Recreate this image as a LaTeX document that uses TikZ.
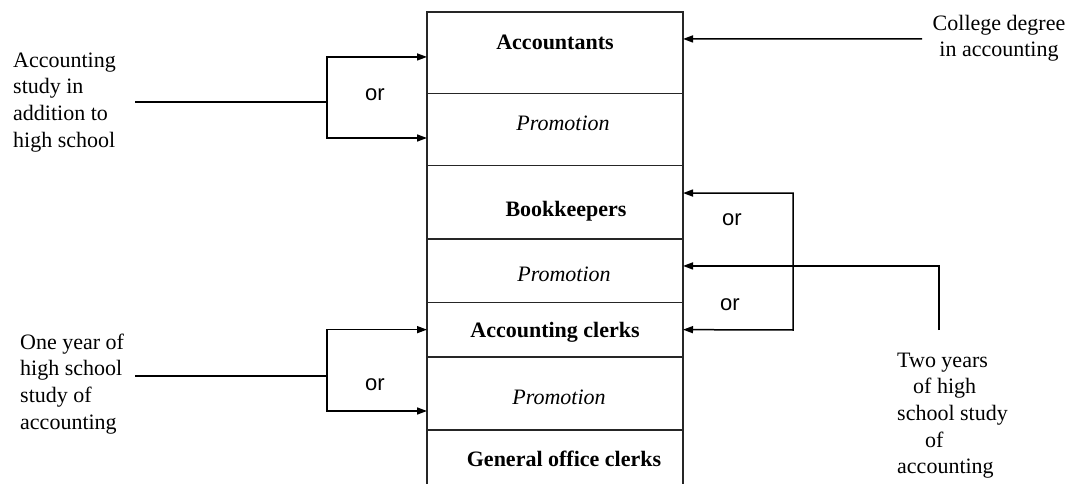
\documentclass[tikz,border=0pt]{standalone}
\usepackage{fontspec}
\setmainfont{Liberation Serif}
\newfontfamily\orfont{Liberation Sans}
\usetikzlibrary{arrows.meta, positioning, calc}
\newcommand{\chartfont}{\fontsize{22}{26.7}\selectfont}
\tikzset{
  >={Triangle[length=10pt, width=7pt]},
  row/.style    = {draw=black!85, line width=1.4pt, minimum width=256pt,
                   outer sep=0pt, inner sep=0pt},
  job/.style    = {font=\chartfont\bfseries, inner sep=0pt},
  promo/.style  = {font=\chartfont\itshape, inner sep=0pt},
  src/.style    = {font=\chartfont, align=left, inner sep=0pt},
  ortext/.style = {font=\chartfont\orfont, inner sep=0pt},
  arrow/.style  = {->, line width=1.5pt},
  link/.style   = {line width=1.5pt},
}

\begin{document}
\begin{tikzpicture}[x=1pt, y=1pt]
  \useasboundingbox (0,0) rectangle (1069,483);

  % ---------- job ladder ---------------------------------------------
  \node[row, minimum height=81.3pt, anchor=north] (r1) at (555,471) {};
  \node[row, minimum height=72.4pt, below=0pt of r1] (r2) {};
  \node[row, minimum height=73.3pt, below=0pt of r2] (r3) {};
  \node[row, minimum height=63.3pt, below=0pt of r3] (r4) {};
  \node[row, minimum height=54.7pt, below=0pt of r4] (r5) {};
  \node[row, minimum height=73pt,   below=0pt of r5] (r6) {};
  \node[row, minimum height=70pt,   below=0pt of r6] (r7) {};

  \node[job]   (accountants) at ($(r1.center)+(0,10.7)$) {Accountants};
  \node[promo] (promo1)      at ($(r2.center)+(8,6.5)$)   {Promotion};
  \node[job]   (bookkeepers) at ($(r3.center)+(11,-8.7)$) {Bookkeepers};
  \node[promo] (promo2)      at ($(r4.center)+(9,-3.3)$)  {Promotion};
  \node[job]   (clerks)      at ($(r5.center)+(0,-2.3)$)  {Accounting clerks};
  \node[promo] (promo3)      at ($(r6.center)+(4,-3.5)$)  {Promotion};
  \node[job]   (general)     at ($(r7.center)+(9,6)$)     {General office clerks};

  % ---------- arrow ends on the ladder -------------------------------
  \coordinate (a1) at ($(r1.west)+(0,-4.3)$);
  \coordinate (a2) at ($(r2.west)+(0,-8.5)$);
  \coordinate (a3) at ($(r1.east)+(0,13.7)$);
  \coordinate (a4) at ($(r3.east)+(0,9.3)$);
  \coordinate (a5) at ($(r4.east)+(0,4.7)$);
  \coordinate (a6) at (r5.east);
  \coordinate (a7) at (r5.west);
  \coordinate (a8) at ($(r6.west)+(0,-17.5)$);

  % ---------- left: accounting study ---------------------------------
  \node[src, anchor=north west] (study) at (13,430.5)
    {Accounting\\study in\\addition to\\high school};
  \coordinate (s1) at (135,381);
  \coordinate (j1) at (327,381);
  \draw[link] (s1) -- (j1);
  \draw[arrow] (j1) |- (a1);
  \draw[arrow] (j1) |- (a2);
  \node[ortext] (or1) at (375,388) {or};

  % ---------- left: one year of high school --------------------------
  \node[src, anchor=north west] (oneyear) at (20,149.4)
    {One year of\\high school\\study of\\accounting};
  \coordinate (s2) at (135,107);
  \coordinate (j2) at (327,107);
  \draw[link] (s2) -- (j2);
  \draw[arrow] (j2) |- (a7);
  \draw[arrow] (j2) |- (a8);
  \node[ortext] (or2) at (375,98) {or};

  % ---------- right: college degree ----------------------------------
  \node[src, align=center, anchor=north] (college) at (999,468.3)
    {College degree\\in accounting};
  \coordinate (s3) at (922,444);
  \draw[arrow] (s3) -- (a3);

  % ---------- right: two years of high school ------------------------
  \coordinate (b1) at (793,153);
  \draw[link, <->] (a4) -| (b1) -- (a6);
  \node[ortext] (or3) at (732,263) {or};
  \node[ortext] (or4) at (730,178) {or};

  \node[src, anchor=north west] (twoyears) at (897,130.5)
    {Two years\\\hspace*{16pt}of high\\school study\\\hspace*{28pt}of\\accounting};
  \coordinate (t1) at (939,153);
  \draw[arrow] (t1) |- (a5);
\end{tikzpicture}
\end{document}
